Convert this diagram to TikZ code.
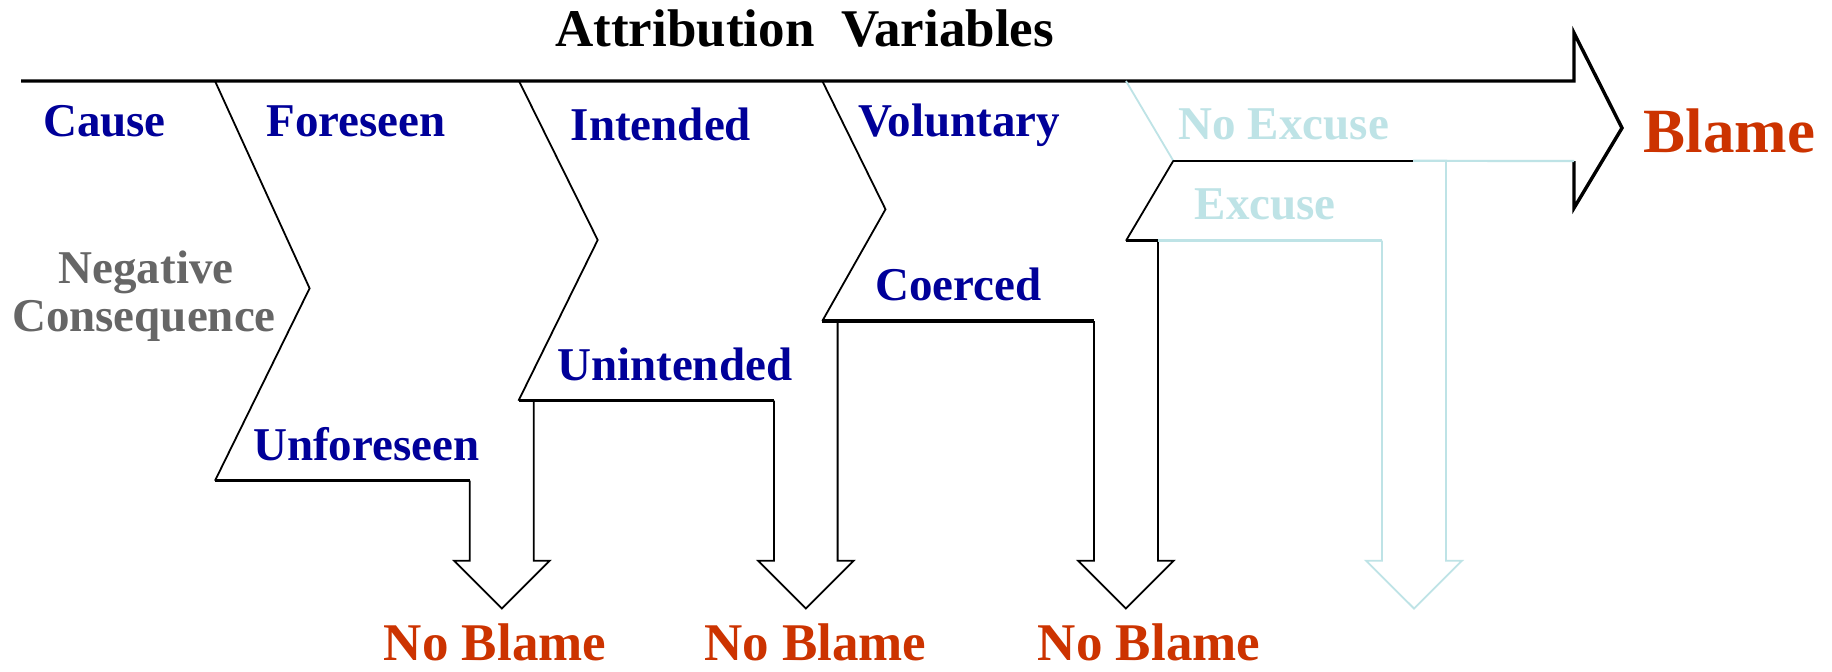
\documentclass[tikz,border=0pt]{standalone}
\usepackage{fontspec}
\setmainfont{Liberation Serif}
\definecolor{varblue}{RGB}{0,0,153}
\definecolor{blamered}{RGB}{204,51,0}
\definecolor{consgray}{RGB}{102,102,102}
\definecolor{faded}{RGB}{190,227,230}

\begin{document}
\begin{tikzpicture}[x=0.5pt,y=-0.5pt,
  heavyedge/.style={line width=1.6pt, line join=miter},
  lightedge/.style={line width=0.9pt, line join=miter},
  fadededge/.style={draw=faded},
  lbl/.style={inner sep=0pt, anchor=base west, font=\bfseries\fontsize{23.5pt}{28pt}\selectfont},
  varlabel/.style={lbl, text=varblue},
  fadedlabel/.style={lbl, text=faded},
  outcome/.style={lbl, text=blamered, font=\bfseries\fontsize{26.5pt}{30pt}\selectfont},
  titlelabel/.style={lbl, text=black, font=\bfseries\fontsize{26.5pt}{30pt}\selectfont}
]
\useasboundingbox (0,0) rectangle (1832,671);
\fill[white] (0,0) rectangle (1832,671);

% ---- main "Blame" arrow along the top ----
\coordinate (start) at (21,81);
\coordinate (hTop) at (1574,81);
\coordinate (hUp) at (1574,33);
\coordinate (hTip) at (1622,128);
\coordinate (hDown) at (1574,208);
\coordinate (hBot) at (1574,161);
\draw[line width=1.7pt, line join=miter] (start) -- (hTop) -- (hUp) -- (hTip) -- (hDown) -- (hBot);

% ---- chevron 1: foreseen / unforeseen ----
\coordinate (c1a) at (215,81);
\coordinate (c1b) at (309.6,288.3);
\coordinate (c1c) at (215,480.7);
\draw[lightedge] (c1a) -- (c1b) -- (c1c);
\coordinate (u1) at (469.7,480.7);
\draw[heavyedge] (c1c) -- (u1);
\draw[lightedge] (u1) -- (469.7,560.7) -- (454,560.7) -- (501.8,608.5)
  -- (549.6,560.7) -- (533.8,560.7) -- (533.8,400.7);

% ---- chevron 2: intended / unintended ----
\coordinate (c2a) at (519,81);
\coordinate (c2b) at (597.7,240);
\coordinate (c2c) at (518.5,400.7);
\draw[lightedge] (c2a) -- (c2b) -- (c2c);
\coordinate (u2) at (774,400.7);
\draw[heavyedge] (c2c) -- (u2);
\draw[lightedge] (u2) -- (774,560.7) -- (758,560.7) -- (805.8,608.5)
  -- (853.6,560.7) -- (837.6,560.7) -- (837.6,321);

% ---- chevron 3: voluntary / coerced ----
\coordinate (c3a) at (822.3,81);
\coordinate (c3b) at (885.5,209.3);
\coordinate (c3c) at (822.3,321);
\draw[lightedge] (c3a) -- (c3b) -- (c3c);
\coordinate (u3) at (1093.9,321);
\draw[heavyedge] (c3c) -- (u3);
\draw[lightedge] (u3) -- (1093.9,560.7) -- (1078,560.7) -- (1125.8,608.5)
  -- (1173.6,560.7) -- (1158,560.7) -- (1158,240.7);

% ---- chevron 4: no excuse / excuse ----
\coordinate (c4a) at (1126,81);
\coordinate (c4b) at (1173.3,160.8);
\coordinate (c4c) at (1126,240.7);
\draw[lightedge, fadededge] (c4a) -- (c4b);
\draw[lightedge] (c4b) -- (c4c);
\draw[line width=1.1pt] (c4b) -- (1413,160.8);
\draw[line width=1.1pt, faded] (1413,160.8) -- (hBot);
\draw[heavyedge] (c4c) -- (1158,240.7);
\draw[heavyedge, faded] (1158,240.7) -- (1382,240.7);
\draw[lightedge, faded] (1382,240.7) -- (1382,560.7) -- (1366,560.7) -- (1414,608.5)
  -- (1462,560.7) -- (1446,560.7) -- (1446,160.8);

% ---- labels ----
\node[titlelabel] (title) at (555,46) {Attribution~~Variables};
\node[varlabel] (cause) at (42.7,136.7) {Cause};
\node[varlabel] (foreseen) at (266,136.7) {Foreseen};
\node[varlabel] (intended) at (570.4,140) {Intended};
\node[varlabel] (voluntary) at (857.9,136.7) {Voluntary};
\node[fadedlabel] (noexcuse) at (1178.3,139.8) {No Excuse};
\node[fadedlabel] (excuse) at (1194.3,219.3) {Excuse};
\node[lbl, text=consgray, anchor=base] (neg) at (146,283) {Negative};
\node[lbl, text=consgray, anchor=base] (cons) at (144,331) {Consequence};
\node[varlabel] (unforeseen) at (252.7,460) {Unforeseen};
\node[varlabel] (unintended) at (556.7,380) {Unintended};
\node[varlabel] (coerced) at (874.8,300) {Coerced};
\node[lbl, text=blamered, font=\bfseries\fontsize{31.5pt}{36pt}\selectfont] (blame) at (1643.5,152.7) {Blame};
\node[outcome] (nb1) at (383.5,660) {No Blame};
\node[outcome] (nb2) at (703.6,660) {No Blame};
\node[outcome] (nb3) at (1037.5,660) {No Blame};
\end{tikzpicture}
\end{document}
